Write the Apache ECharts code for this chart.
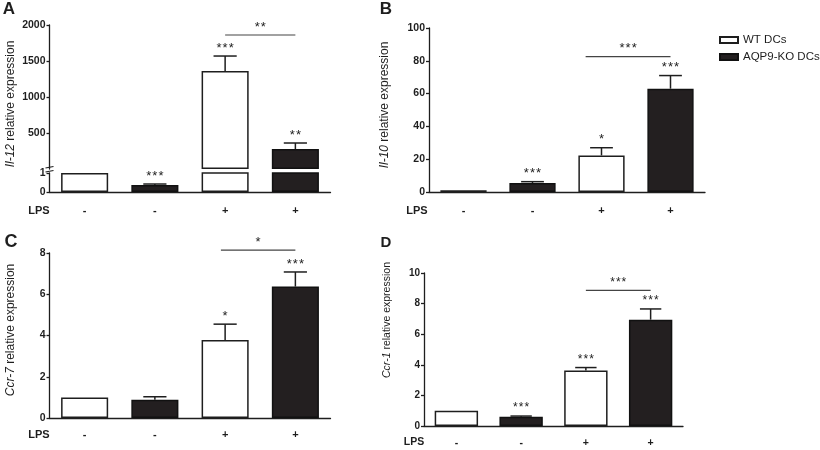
<!DOCTYPE html>
<html><head><meta charset="utf-8">
<script src="https://cdn.jsdelivr.net/npm/echarts@6/dist/echarts.min.js"></script>
<style>html,body{margin:0;padding:0;background:#fff}#c{width:820px;height:450px}</style>
</head><body><div id="c"></div>
<script>
// ---------- data ----------
const lpsLabels = ['-', '-', '+', '+'];
const groups = ['WT DCs', 'AQP9-KO DCs', 'WT DCs', 'AQP9-KO DCs'];
const legendNames = ['WT DCs', 'AQP9-KO DCs'];

const il12Mean = [1, 0.37, 1361, 278];
const il12Sem = [0, 0.05, 208, 83];
const il12Stars = ['', '***', '***', '**'];
const il12Bracket = [2, 3, 1861, '**'];
const il12UpperTicks = [500, 1000, 1500, 2000];

const il10Mean = [1, 5.5, 22.3, 63];
const il10Sem = [0, 0.8, 4.7, 8];
const il10Stars = ['', '***', '*', '***'];
const il10Bracket = [2, 3, 82.5, '***'];

const ccr7Mean = [1, 0.88, 3.78, 6.37];
const ccr7Sem = [0, 0.15, 0.77, 0.71];
const ccr7Stars = ['', '', '*', '***'];
const ccr7Bracket = [2, 3, 8.14, '*'];

const ccr1Mean = [1, 0.6, 3.62, 6.95];
const ccr1Sem = [0, 0.05, 0.2, 0.7];
const ccr1Stars = ['', '***', '***', '***'];
const ccr1Bracket = [2, 3, 8.87, '***'];

// ---------- helpers ----------
const FONT = 'Liberation Sans, Arial, sans-serif';
const INK = '#1e1e1e';
const spaced = s => s.split('').join('\u200A');
const split = (arr, g) => arr.map((v, i) => groups[i] === g ? v : '-');

function barSeries(xi, yi, mean) {
  const base = { type: 'bar', xAxisIndex: xi, yAxisIndex: yi, barWidth: '67%', barGap: '-100%', animation: false, silent: true };
  return [
    Object.assign({}, base, { name: legendNames[0], data: split(mean, legendNames[0]),
      itemStyle: { color: '#ffffff', borderColor: INK, borderWidth: 1.5 } }),
    Object.assign({}, base, { name: legendNames[1], data: split(mean, legendNames[1]),
      itemStyle: { color: '#231f20', borderColor: '#111', borderWidth: 1.5 } })
  ];
}

function starText(x, y, s, fs) {
  return { type: 'text', x, y,
    style: { text: spaced(s), fontSize: fs, fill: '#222', align: 'center', verticalAlign: 'middle', fontFamily: FONT } };
}

function errSeries(xi, yi, mean, sem, stars, keep, fs) {
  const data = mean.map((v, i) => [i, v, v + sem[i]]).filter(d => keep(d[0]));
  return {
    type: 'custom', xAxisIndex: xi, yAxisIndex: yi, data, z: 5, animation: false, silent: true,
    renderItem(params, api) {
      const i = api.value(0), m = api.value(1), t = api.value(2);
      const pm = api.coord([i, m]), pt = api.coord([i, t]);
      const half = api.size([1, 0])[0] * 0.165;
      const ls = { stroke: INK, lineWidth: 1.5 };
      const ch = [];
      if (t > m) {
        ch.push({ type: 'line', shape: { x1: pm[0], y1: pm[1], x2: pt[0], y2: pt[1] }, style: ls });
        ch.push({ type: 'line', shape: { x1: pt[0] - half, y1: pt[1], x2: pt[0] + half, y2: pt[1] }, style: ls });
      }
      if (stars[i]) ch.push(starText(pt[0], pt[1] - 8, stars[i], fs || 13));
      return { type: 'group', children: ch };
    }
  };
}

function bracketSeries(xi, yi, br, shift, fs) {
  return {
    type: 'custom', xAxisIndex: xi, yAxisIndex: yi, data: [[br[0], br[1], br[2]]], z: 5, animation: false, silent: true,
    renderItem(params, api) {
      const bw = api.size([1, 0])[0];
      const p0 = api.coord([api.value(0), api.value(2)]), p1 = api.coord([api.value(1), api.value(2)]);
      const x0 = p0[0] + (shift || 0) * bw;
      return { type: 'group', children: [
        { type: 'line', shape: { x1: x0, y1: p0[1], x2: p1[0], y2: p1[1] }, style: { stroke: '#444', lineWidth: 1.2 } },
        starText((x0 + p1[0]) / 2, p0[1] - 8, br[3], fs || 13)
      ] };
    }
  };
}

const plain = v => String(v);
function yAx(gi, min, max, interval, fs, ticks) {
  const ax = {
    type: 'value', gridIndex: gi, min, max, interval,
    axisLine: { show: true, lineStyle: { color: INK, width: 1.3 } },
    axisTick: { show: true, length: 3, lineStyle: { color: INK, width: 1.3 } },
    axisLabel: { fontSize: fs, fontWeight: 'bold', color: INK, margin: 4, fontFamily: FONT, formatter: plain },
    splitLine: { show: false }
  };
  if (ticks) { ax.axisLabel.customValues = ticks; ax.axisTick.customValues = ticks; }
  return ax;
}
function xAx(gi, show, margin, fs) {
  return {
    type: 'category', gridIndex: gi, data: lpsLabels, show,
    axisLine: { lineStyle: { color: INK, width: 1.3 } },
    axisTick: { alignWithLabel: true, length: 4, lineStyle: { color: INK, width: 1.3 } },
    axisLabel: { margin, fontSize: fs, fontWeight: 'bold', color: INK, fontFamily: FONT }
  };
}
function txt(x, y, text, fs, bold, rot) {
  return { type: 'text', x, y, rotation: rot || 0, silent: true,
    style: { text, fontSize: fs, fontWeight: bold ? 'bold' : 'normal', fill: INK, align: 'center', verticalAlign: 'middle',
      fontFamily: FONT, rich: { i: { fontStyle: 'italic', fontSize: fs, fontFamily: FONT, fill: INK } } } };
}

// ---------- option ----------
const chart = echarts.init(document.getElementById('c'), null, { renderer: 'canvas' });
const option = {
  backgroundColor: '#fff',
  animation: false,
  grid: [
    { left: 49.5, top: 25, width: 281, height: 144, containLabel: false },   // A upper
    { left: 49.5, top: 173, width: 281, height: 19, containLabel: false },   // A lower
    { left: 429, top: 28, width: 276, height: 164, containLabel: false },    // B
    { left: 49.5, top: 253, width: 281, height: 165, containLabel: false },  // C
    { left: 424, top: 273, width: 259, height: 153, containLabel: false }    // D
  ],
  xAxis: [xAx(0, false, 0, 11), xAx(1, true, 13, 11), xAx(2, true, 13, 11), xAx(3, true, 11.5, 11), xAx(4, true, 11.5, 10.5)],
  yAxis: [
    yAx(0, 0, 2000, 500, 10.5, il12UpperTicks),
    yAx(1, 0, 1, 1, 10.5),
    yAx(2, 0, 100, 20, 10.5),
    yAx(3, 0, 8, 2, 10.5),
    yAx(4, 0, 10, 2, 10)
  ],
  legend: {
    left: 714, top: 29, orient: 'vertical', itemWidth: 18, itemHeight: 6, itemGap: 5, icon: 'rect',
    data: legendNames, selectedMode: false,
    textStyle: { fontSize: 11.5, fontFamily: FONT, color: INK }
  },
  series: [].concat(
    barSeries(0, 0, il12Mean.map(v => v > 1 ? v : '-')),
    barSeries(1, 1, il12Mean),
    errSeries(0, 0, il12Mean, il12Sem, il12Stars, i => il12Mean[i] > 1),
    errSeries(1, 1, il12Mean, il12Sem, il12Stars, i => il12Mean[i] <= 1),
    bracketSeries(0, 0, il12Bracket, 0),
    barSeries(2, 2, il10Mean),
    errSeries(2, 2, il10Mean, il10Sem, il10Stars, () => true),
    bracketSeries(2, 2, il10Bracket, -0.23),
    barSeries(3, 3, ccr7Mean),
    errSeries(3, 3, ccr7Mean, ccr7Sem, ccr7Stars, () => true),
    bracketSeries(3, 3, ccr7Bracket, -0.06),
    barSeries(4, 4, ccr1Mean),
    errSeries(4, 4, ccr1Mean, ccr1Sem, ccr1Stars, () => true, 12),
    bracketSeries(4, 4, ccr1Bracket, 0, 12)
  ),
  graphic: [
    txt(9, 9, 'A', 17, true), txt(386, 9, 'B', 17, true), txt(11, 242, 'C', 18, true), txt(386, 243, 'D', 15, true),
    txt(39, 211, 'LPS', 11, true), txt(417, 211, 'LPS', 11, true), txt(39, 435, 'LPS', 11, true), txt(414, 442, 'LPS', 10.5, true),
    txt(11, 104, '{i|Il-12} relative expression', 12, false, Math.PI / 2),
    txt(385, 105, '{i|Il-10} relative expression', 12, false, Math.PI / 2),
    txt(11, 330, '{i|Ccr-7} relative expression', 12, false, Math.PI / 2),
    txt(387, 320, '{i|Ccr-1} relative expression', 10.5, false, Math.PI / 2),
    // axis break marks on panel A
    { type: 'line', silent: true, shape: { x1: 45.5, y1: 168, x2: 53.5, y2: 166.5 }, style: { stroke: INK, lineWidth: 1.2 } },
    { type: 'line', silent: true, shape: { x1: 45.5, y1: 172, x2: 53.5, y2: 170.5 }, style: { stroke: INK, lineWidth: 1.2 } }
  ]
};
chart.setOption(option);
</script>
</body></html>
